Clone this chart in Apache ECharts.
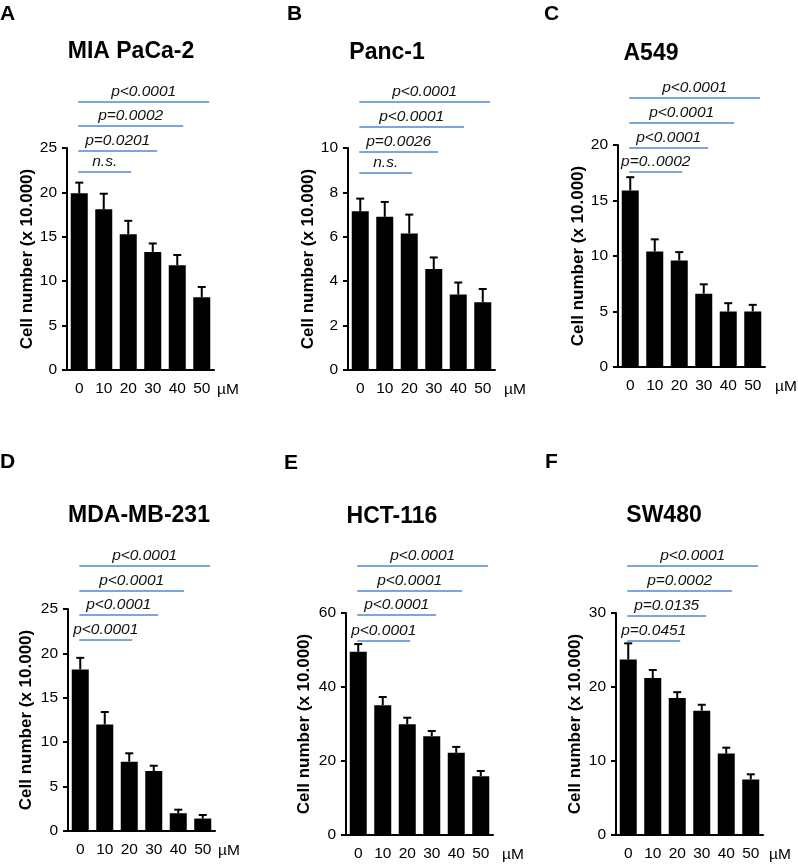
<!DOCTYPE html>
<html>
<head>
<meta charset="utf-8">
<script src="https://cdn.jsdelivr.net/npm/echarts@6/dist/echarts.min.js"></script>
<style>html,body{margin:0;padding:0;background:#fff;}#c{width:798px;height:866px;}</style>
</head>
<body>
<div id="c"></div>
<script>
// ---------- data ----------
const doses = ['0', '10', '20', '30', '40', '50'];
const doseUnit = 'µM';
const yAxisTitle = 'Cell number (x 10.000)';

const panelLetters = ['A', 'B', 'C', 'D', 'E', 'F'];
const cellLines = ['MIA PaCa-2', 'Panc-1', 'A549', 'MDA-MB-231', 'HCT-116', 'SW480'];

const miaMean  = [19.9, 18.1, 15.3, 13.3, 11.8, 8.2];
const miaErr   = [1.2, 1.75, 1.5, 0.95, 1.15, 1.15];
const pancMean = [7.15, 6.9, 6.15, 4.55, 3.4, 3.05];
const pancErr  = [0.57, 0.67, 0.85, 0.52, 0.54, 0.6];
const a549Mean = [15.9, 10.4, 9.6, 6.6, 5.0, 5.0];
const a549Err  = [1.2, 1.1, 0.75, 0.85, 0.75, 0.6];
const mdaMean  = [18.2, 12.0, 7.8, 6.75, 2.0, 1.4];
const mdaErr   = [1.3, 1.4, 0.95, 0.6, 0.4, 0.4];
const hctMean  = [49.5, 35.1, 29.9, 26.7, 22.2, 15.9];
const hctErr   = [2.1, 2.2, 1.8, 1.4, 1.6, 1.4];
const swMean   = [23.7, 21.2, 18.5, 16.8, 11.0, 7.5];
const swErr    = [2.2, 1.1, 0.8, 0.8, 0.8, 0.7];

const yMax      = [25, 10, 20, 25, 60, 30];
const yInterval = [5, 2, 5, 5, 20, 10];

// p-value labels, from the shortest comparison line (0 vs 10) to the longest (0 vs 50)
const miaP  = ['n.s.', 'p=0.0201', 'p=0.0002', 'p<0.0001'];
const pancP = ['n.s.', 'p=0.0026', 'p<0.0001', 'p<0.0001'];
const a549P = ['p=0..0002', 'p<0.0001', 'p<0.0001', 'p<0.0001'];
const mdaP  = ['p<0.0001', 'p<0.0001', 'p<0.0001', 'p<0.0001'];
const hctP  = ['p<0.0001', 'p<0.0001', 'p<0.0001', 'p<0.0001'];
const swP   = ['p=0.0451', 'p=0.0135', 'p=0.0002', 'p<0.0001'];

const means = [miaMean, pancMean, a549Mean, mdaMean, hctMean, swMean];
const errs  = [miaErr, pancErr, a549Err, mdaErr, hctErr, swErr];
const pLabels = [miaP, pancP, a549P, mdaP, hctP, swP];

// ---------- layout (pixels) ----------
const FONT = '"Liberation Sans", Arial, Helvetica, sans-serif';
const layout = [
  {left: 67,  top: 148, nameGap: 31, muGap: 3,  title: [131, 52],  letter: [0, 14],    sig: [24, 3, -22, -46]},
  {left: 348, top: 148, nameGap: 31, muGap: 9,  title: [387, 53],  letter: [287, 14],  sig: [25, 4, -21, -46]},
  {left: 618, top: 145, nameGap: 30, muGap: 10, title: [651, 54],  letter: [544, 14],  sig: [27, 3, -22, -47]},
  {left: 68,  top: 609, nameGap: 33, muGap: 3,  title: [139, 516], letter: [0, 462],   sig: [31, 6, -18, -43]},
  {left: 346, top: 613, nameGap: 33, muGap: 9,  title: [392, 517], letter: [284, 463], sig: [28, 2, -22, -47]},
  {left: 616, top: 613, nameGap: 32, muGap: 6,  title: [664, 516], letter: [545, 462], sig: [28, 3, -22, -47]}
];
const GW = 147, GH = 222;
const SIG_COLOR = '#5588d0';

const grids = [], xAxes = [], yAxes = [], series = [], graphics = [];

layout.forEach((l, i) => {
  grids.push({left: l.left, top: l.top, width: GW, height: GH, containLabel: false});
  xAxes.push({
    gridIndex: i, type: 'category', data: doses,
    axisLine: {lineStyle: {color: '#000', width: 2}},
    axisTick: {alignWithLabel: true, length: 6, lineStyle: {color: '#000', width: 2}},
    axisLabel: {color: '#000', fontSize: 15.5, fontFamily: FONT, margin: 11},
    splitLine: {show: false},
    name: doseUnit, nameLocation: 'end', nameGap: l.muGap,
    nameTextStyle: {color: '#000', fontSize: 15.5, fontFamily: FONT, verticalAlign: 'top', align: 'left', padding: [12, 0, 0, 0]}
  });
  yAxes.push({
    gridIndex: i, type: 'value', min: 0, max: yMax[i], interval: yInterval[i],
    splitLine: {show: false},
    axisLine: {show: true, lineStyle: {color: '#000', width: 2}},
    axisTick: {show: true, length: 5, lineStyle: {color: '#000', width: 2}},
    axisLabel: {color: '#000', fontSize: 15.5, fontFamily: FONT, margin: 10},
    name: yAxisTitle, nameLocation: 'middle', nameGap: l.nameGap,
    nameTextStyle: {color: '#000', fontSize: 17, fontWeight: 'bold', fontFamily: FONT}
  });

  series.push({
    type: 'bar', xAxisIndex: i, yAxisIndex: i, data: means[i],
    barWidth: 17, itemStyle: {color: '#000'}, silent: true, z: 2
  });

  series.push({
    type: 'custom', xAxisIndex: i, yAxisIndex: i, z: 3, silent: true, clip: false,
    data: means[i].map((m, j) => [j, m, errs[i][j]]),
    encode: {x: 0, y: 1},
    renderItem: function (params, api) {
      const idx = api.value(0), m = api.value(1), e = api.value(2);
      const p = api.coord([idx, m]);
      const t = api.coord([idx, m + e]);
      const st = {stroke: '#000', lineWidth: 2};
      return {type: 'group', children: [
        {type: 'line', shape: {x1: p[0], y1: p[1], x2: p[0], y2: t[1]}, style: st},
        {type: 'line', shape: {x1: p[0] - 4, y1: t[1], x2: p[0] + 4, y2: t[1]}, style: st}
      ]};
    }
  });

  const offs = l.sig;
  const labels = pLabels[i];
  series.push({
    type: 'custom', xAxisIndex: i, yAxisIndex: i, z: 4, silent: true, clip: false,
    data: labels.map((t, j) => [0, j + 2, 0]),
    encode: {x: [0, 1], y: 2},
    renderItem: function (params, api) {
      const j = params.dataIndex;
      const x0 = api.coord([api.value(0), 0])[0];
      const xk = api.coord([api.value(1), 0])[0];
      const xs = x0 - 1;
      const xe = x0 + (xk - x0) * 1.06;
      const y = params.coordSys.y + offs[j];
      return {type: 'group', children: [
        {type: 'line', shape: {x1: xs, y1: y, x2: xe, y2: y}, style: {stroke: SIG_COLOR, lineWidth: 1.5}},
        {type: 'text', style: {
          text: labels[j], x: (xs + xe) / 2, y: y - 10.5,
          align: 'center', verticalAlign: 'middle', textAlign: 'center', textVerticalAlign: 'middle',
          fontSize: 15.5, fontStyle: 'italic', fontFamily: FONT, fill: '#111'
        }}
      ]};
    }
  });

  graphics.push({
    type: 'text', x: l.title[0], y: l.title[1], silent: true,
    style: {text: cellLines[i], align: 'center', verticalAlign: 'middle', textAlign: 'center', textVerticalAlign: 'middle',
      fontSize: 23, fontWeight: 'bold', fontFamily: FONT, fill: '#000'}
  });
  graphics.push({
    type: 'text', x: l.letter[0], y: l.letter[1], silent: true,
    style: {text: panelLetters[i], align: 'left', verticalAlign: 'middle', textAlign: 'left', textVerticalAlign: 'middle',
      fontSize: 21, fontWeight: 'bold', fontFamily: FONT, fill: '#000'}
  });
});

const chart = echarts.init(document.getElementById('c'), null, {renderer: 'canvas'});
chart.setOption({
  backgroundColor: '#fff',
  animation: false,
  textStyle: {fontFamily: FONT},
  grid: grids, xAxis: xAxes, yAxis: yAxes, series: series, graphic: graphics
});
</script>
</body>
</html>
